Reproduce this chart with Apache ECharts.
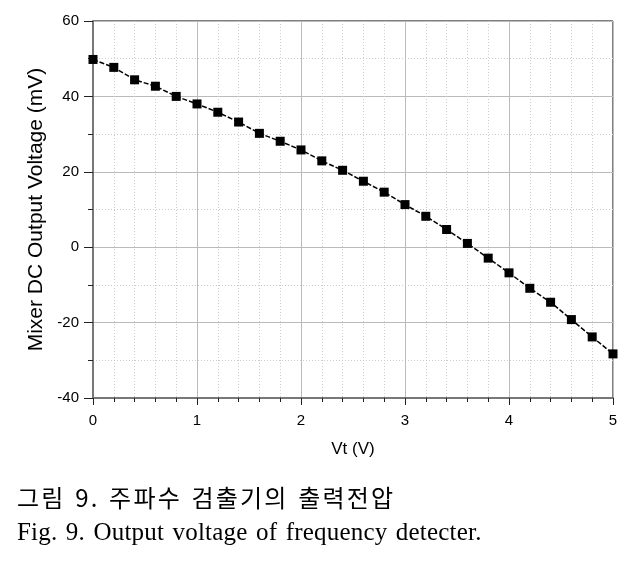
<!DOCTYPE html>
<html><head><meta charset="utf-8">
<script src="https://cdn.jsdelivr.net/npm/echarts@6/dist/echarts.min.js"></script>
<style>
html,body{margin:0;padding:0;background:#fff}
#wrap{position:relative;width:636px;height:563px}
#c{position:absolute;left:0;top:0;width:636px;height:563px}
.cap{position:absolute;left:17px;color:#000;white-space:nowrap;line-height:1}
#ko{top:479px;font:400 24px "Noto Sans CJK KR";letter-spacing:2.2px;word-spacing:2px}
#en{top:518px;font:25px "Liberation Serif","DejaVu Serif";letter-spacing:0.2px;word-spacing:2px}
</style>
</head><body><div id="wrap"><div id="c"></div><div class="cap" id="ko"></div><div class="cap" id="en"></div></div>
<script>
const vt = [0,0.2,0.4,0.6,0.8,1.0,1.2,1.4,1.6,1.8,2.0,2.2,2.4,2.6,2.8,3.0,3.2,3.4,3.6,3.8,4.0,4.2,4.4,4.6,4.8,5.0];
const mixerMv = [49.8,47.7,44.4,42.7,40.0,38.0,35.8,33.2,30.2,28.1,25.8,22.9,20.4,17.5,14.6,11.3,8.2,4.7,1.0,-2.9,-6.8,-10.9,-14.6,-19.2,-23.8,-28.3];
const xName = 'Vt (V)';
const yName = 'Mixer DC Output Voltage (mV)';
const captionKo = '그림 9. 주파수 검출기의 출력전압';
const captionEn = 'Fig. 9. Output voltage of frequency detecter.';

document.getElementById('ko').textContent = captionKo;
document.getElementById('en').textContent = captionEn;

const chart = echarts.init(document.getElementById('c'), null, {renderer:'canvas'});
const tickFont = {fontFamily:'Liberation Sans, Arial', fontSize:15, color:'#000'};
chart.setOption({
  animation:false,
  grid:{left:93, right:23, top:21, bottom:165, show:true, borderColor:'#000', borderWidth:1},
  xAxis:{
    type:'value', min:0, max:5, interval:1,
    name:xName, nameLocation:'middle', nameGap:43,
    nameTextStyle:{fontFamily:'Liberation Sans, Arial', fontSize:17, color:'#000'},
    axisLine:{show:true, onZero:false, lineStyle:{color:'#777', width:2}},
    axisTick:{show:true, inside:false, length:7, lineStyle:{color:'#222'}},
    minorTick:{show:true, splitNumber:5, length:4, lineStyle:{color:'#222'}},
    axisLabel:Object.assign({margin:15}, tickFont),
    splitLine:{show:true, lineStyle:{color:'#bbb', width:1}},
    minorSplitLine:{show:true, lineStyle:{color:'#ccc', type:[1,2], width:1}}
  },
  yAxis:{
    type:'value', min:-40, max:60, interval:20,
    name:yName, nameLocation:'middle', nameGap:45,
    nameTextStyle:{fontFamily:'Liberation Sans, Arial', fontSize:21, color:'#000'},
    axisLine:{show:true, onZero:false, lineStyle:{color:'#777', width:2}},
    axisTick:{show:true, inside:false, length:9, lineStyle:{color:'#222'}},
    minorTick:{show:true, splitNumber:2, length:5, lineStyle:{color:'#222'}},
    axisLabel:Object.assign({margin:14}, tickFont),
    splitLine:{show:true, lineStyle:{color:'#bbb', width:1}},
    minorSplitLine:{show:true, lineStyle:{color:'#ccc', type:[1,2], width:1}}
  },
  series:[{
    type:'line',
    data:vt.map((x,i)=>[x, mixerMv[i]]),
    symbol:'rect', symbolSize:9,
    itemStyle:{color:'#000'},
    lineStyle:{color:'#000', width:1.5, type:[5,2]},
    clip:false
  }]
});
</script></body></html>
